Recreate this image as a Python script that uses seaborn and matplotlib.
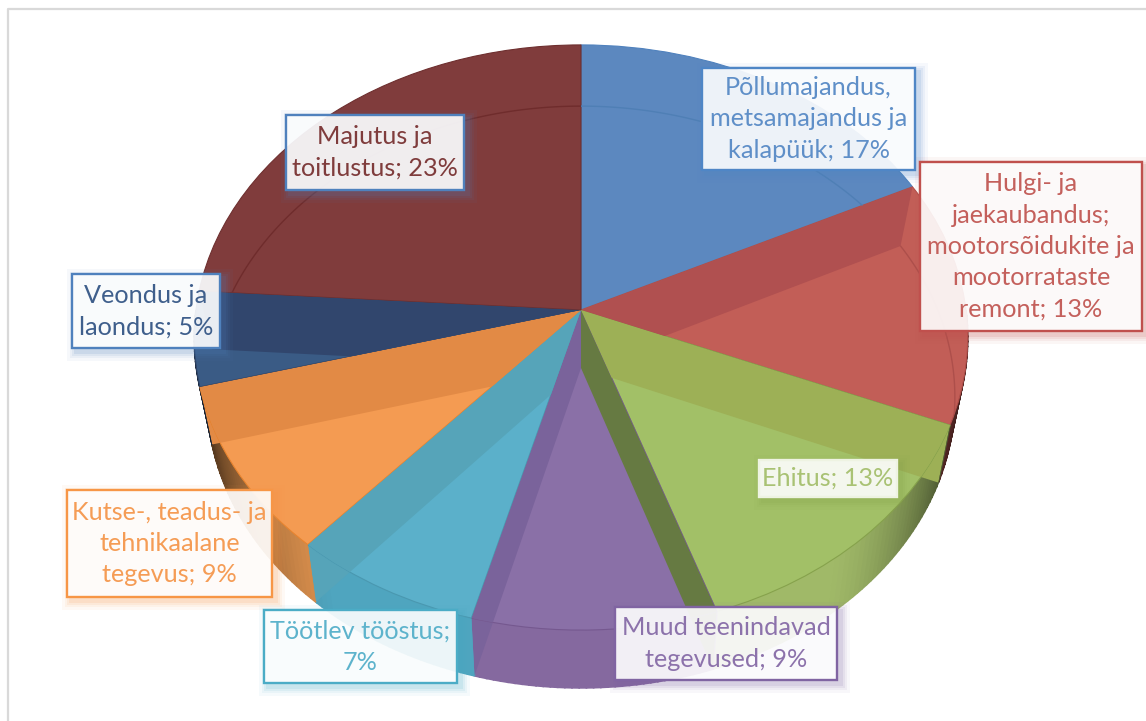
import numpy as np
import matplotlib
matplotlib.use("Agg")
import matplotlib.pyplot as plt
import seaborn as sns
from matplotlib.patches import Rectangle, Polygon
from matplotlib.transforms import Transform

# ---------- data ----------
labels = ["Põllumajandus,\nmetsamajandus ja\nkalapüük; 17%",
          "Hulgi- ja\njaekaubandus;\nmootorsõidukite ja\nmootorrataste\nremont; 13%",
          "Ehitus; 13%",
          "Muud teenindavad\ntegevused; 9%",
          "Töötlev tööstus;\n7%",
          "Kutse-, teadus- ja\ntehnikaalane\ntegevus; 9%",
          "Veondus ja\nlaondus; 5%",
          "Majutus ja\ntoitlustus; 23%"]
values = [17, 13, 13, 9, 7, 9, 5, 23]
top_colors = ["#5c88bf", "#c25e57", "#a2c067", "#8a70a7", "#5bb0ca", "#f49b52", "#3a5b85", "#803c3c"]
wall_colors = ["#4f7cb0", "#a84f4a", "#a0b968", "#85699f", "#4fa5bf", "#dc914e", "#3d6090", "#6e3030"]
edge_colors = ["#4f81bd", "#b04f4a", "#86a24c", "#75588f", "#4a98b0", "#e8842f", "#2f4468", "#6e2f2f"]
text_colors = ["#5f8fc8", "#c4605c", "#a9c274", "#8c72ab", "#5db3cc", "#f59c55", "#3f5f8c", "#7f3c3c"]
box_edges = ["#4f86c6", "#c0504d", "#eef3e2", "#8064a2", "#4bacc6", "#f79646", "#4f81bd", "#4f81bd"]
shadow_colors = ["#4f86c6", "#c0504d", "#86a24c", "#8064a2", "#4bacc6", "#f79646", "#4f81bd", "#4f81bd"]
# band: boundary index, owning slice, colour
band_bounds = [1, 2, 3, 4, 5, 6, 7]
band_owner = [1, 2, 3, 3, 4, 5, 6]
band_colors = ["#b05050", "#9db056", "#667a42", "#7a639b", "#56a4b9", "#e28a45", "#31466d"]
arc_slices = [0, 1, 7]
arc_colors = ["#4f7fb5", "#ad4f4b", "#6f2c2c"]
# label box: left, top, right, bottom in picture pixels
boxes = [(702, 68, 915, 170), (920, 162, 1142, 331), (759, 460, 897, 497), (615, 607, 837, 680),
         (264, 610, 457, 683), (67, 490, 272, 597), (72, 274, 220, 348), (286, 115, 464, 190)]


class Persp(Transform):
    input_dims = output_dims = 2
    is_separable = False
    has_inverse = False

    def __init__(self, cx, cy, c, b, a):
        super().__init__()
        self.p = (cx, cy, c, b, a)

    def transform_non_affine(self, xy):
        xy = np.asarray(xy, float)
        cx, cy, c, b, a = self.p
        w = 1 + a * xy[:, 1]
        return np.column_stack([cx + c * xy[:, 0] / w, cy - b * xy[:, 1] / w])


top_t = Persp(581, 310, 385, 290, 0.094)
bot_t = Persp(581, 368, 372, 288, 0.0997)


def unit(th):
    th = np.radians(np.atleast_1d(th))
    return np.column_stack([np.sin(th), np.cos(th)])


def top_pt(th):
    return top_t.transform_non_affine(unit(th))


def bot_pt(th):
    return bot_t.transform_non_affine(unit(th))


sns.set_theme(style="white")
plt.rcParams["font.family"] = ["Lato", "DejaVu Sans"]
fig = plt.figure(figsize=(11.46, 7.21), dpi=100, facecolor="white")
ax = fig.add_axes([0, 0, 1, 1])
palette = sns.color_palette(top_colors)

wedges, _ = ax.pie(values, startangle=90, counterclock=False, colors=palette,
                   wedgeprops=dict(linewidth=0.8))
ax.set_aspect("auto")
ax.set_xlim(0, 1146)
ax.set_ylim(721, 0)
ax.axis("off")

bounds = np.cumsum([0] + values) / sum(values) * 360.0

for i, w in enumerate(wedges):
    w.set_transform(top_t + ax.transData)
    w.set_edgecolor(edge_colors[i])
    w.set_zorder(2)

# outer side walls (front part of the pie)
wall_polys = []
for i in range(len(values)):
    a, b = max(bounds[i], 90), min(bounds[i + 1], 270)
    if a >= b:
        wall_polys.append(None)
        continue
    th = np.arange(a, b + 1.0, 1.0)
    th[-1] = b
    base = np.array(matplotlib.colors.to_rgb(wall_colors[i]))
    for t0, t1 in zip(th[:-1], th[1:]):
        x = abs(np.sin(np.radians((t0 + t1) / 2)))
        shade = np.clip((x - 0.6) / 0.4, 0, 1) ** 1.5 * 0.7
        col = base * (1 - shade)
        ax.fill(*np.vstack([top_pt([t0, t1]), bot_pt([t1, t0])]).T, color=col, lw=1.2, zorder=1)
    wall_polys.append(np.vstack([top_pt(th), bot_pt(th[::-1])]))

# inner radial walls seen through the top surface
for bd, owner, col in zip(band_bounds, band_owner, band_colors):
    th = bounds[bd]
    quad = np.vstack([top_t.transform_non_affine(np.array([[0.0, 0.0]])), top_pt(th), bot_pt(th),
                      bot_t.transform_non_affine(np.array([[0.0, 0.0]]))])
    p = Polygon(quad, closed=True, fc=col, ec="none", zorder=3)
    ax.add_patch(p)
    p.set_clip_path(wedges[owner])
    if wall_polys[owner] is not None:
        clip = Polygon(wall_polys[owner], closed=True, transform=ax.transData)
        p2 = Polygon(quad, closed=True, fc=col, ec="none", zorder=1.5)
        ax.add_patch(p2)
        p2.set_clip_path(clip)

# back edge of the lower disc, visible through the top surface
for s, col in zip(arc_slices, arc_colors):
    th = np.linspace(bounds[s], bounds[s + 1], 80)
    ln, = ax.plot(*bot_pt(th).T, color=col, lw=1.0, zorder=4)
    ln.set_clip_path(wedges[s])

# picture frame
ax.plot([8, 8, 1146], [721, 9, 9], color="#d9d9d9", lw=1.6, zorder=0.5)

# labels
for lab, box, tc, ec, sc in zip(labels, boxes, text_colors, box_edges, shadow_colors):
    x0, y0, x1, y1 = box
    for g, al in zip([9, 6, 4, 2], [0.05, 0.07, 0.09, 0.12]):
        ax.add_patch(Rectangle((x0 - g + 4, y0 - g + 4), x1 - x0 + 2 * g, y1 - y0 + 2 * g,
                               fc=sc, ec="none", alpha=al, zorder=5))
    ax.add_patch(Rectangle((x0, y0), x1 - x0, y1 - y0, fc="white", alpha=0.9, ec="none", zorder=6))
    ax.add_patch(Rectangle((x0, y0), x1 - x0, y1 - y0, fc="none", ec=ec, lw=1.7, zorder=7))
    ax.text((x0 + x1) / 2, (y0 + y1) / 2, lab, color=tc, ha="center", va="center",
            fontsize=18.2, linespacing=1.44, zorder=8)

fig.savefig("out.png", dpi=100)
